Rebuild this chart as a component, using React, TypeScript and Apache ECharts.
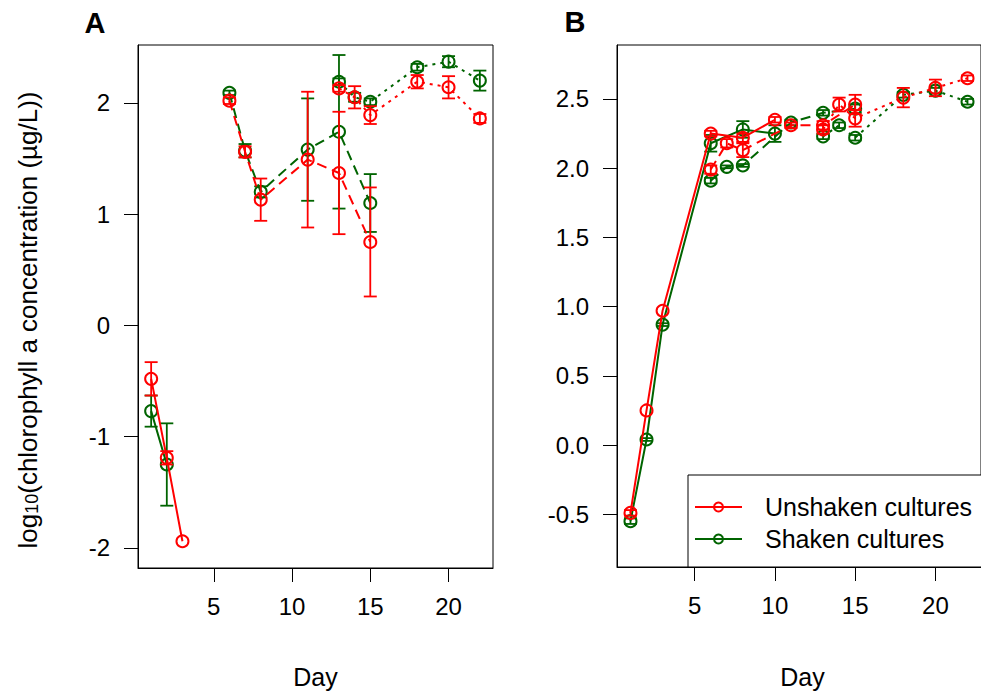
import React, { useEffect, useRef } from "react";
import * as echarts from "echarts";

// ---------- data ----------
const daysExp1A = [1, 2, 3];
const daysExp1A_green = [1, 2];
const daysExp1B = [1, 2, 3, 6, 8, 10];
const daysExp2 = [6, 7, 8, 11, 13, 15];
const daysExp3 = [13, 14, 15, 18, 20, 22];

// Panel A (chlorophyll a)
const aUnshaken1 = [-0.48, -1.19, -1.94];
const aUnshaken1Err = [0.15, 0.06, 0];
const aUnshaken2 = [2.02, 1.56, 1.13, 1.49, 1.37, 0.75];
const aUnshaken2Err = [0.03, 0.05, 0.19, 0.61, 0.55, 0.49];
const aUnshaken3 = [2.13, 2.05, 1.89, 2.19, 2.14, 1.86];
const aUnshaken3Err = [0.03, 0.1, 0.08, 0.06, 0.1, 0.04];

const aShaken1 = [-0.77, -1.25];
const aShaken1Err = [0.14, 0.37];
const aShaken2 = [2.09, 1.57, 1.2, 1.58, 1.74, 1.1];
const aShaken2Err = [0.02, 0.06, 0.05, 0.46, 0.69, 0.26];
const aShaken3 = [2.19, 2.05, 2.01, 2.32, 2.37, 2.2];
const aShaken3Err = [0.03, 0.04, 0.03, 0.03, 0.05, 0.09];

// Panel B
const bUnshaken1 = [-0.49, 0.25, 0.97, 2.25, 2.22, 2.35];
const bUnshaken1Err = [0.02, 0, 0, 0.02, 0.03, 0.02];
const bUnshaken2 = [1.99, 2.18, 2.13, 2.31, 2.31, 2.46];
const bUnshaken2Err = [0.03, 0.03, 0.05, 0.02, 0.03, 0.07];
const bUnshaken3 = [2.28, 2.46, 2.36, 2.51, 2.58, 2.65];
const bUnshaken3Err = [0.03, 0.05, 0.06, 0.07, 0.06, 0.02];

const bShaken1 = [-0.55, 0.04, 0.87, 2.18, 2.28, 2.25];
const bShaken1Err = [0.02, 0.01, 0.01, 0.06, 0.06, 0.06];
const bShaken2 = [1.91, 2.01, 2.02, 2.33, 2.4, 2.43];
const bShaken2Err = [0.02, 0.01, 0.01, 0.02, 0.02, 0.03];
const bShaken3 = [2.23, 2.31, 2.22, 2.53, 2.56, 2.48];
const bShaken3Err = [0.02, 0.02, 0.02, 0.02, 0.02, 0.02];

const xTicks = [5, 10, 15, 20];
const yTicksA = [-2, -1, 0, 1, 2];
const yTicksB = [-0.5, 0, 0.5, 1, 1.5, 2, 2.5];

const legendLabels = ["Unshaken cultures", "Shaken cultures"];
const yTitleMain = "(chlorophyll a concentration (\u00b5g/L))";

// ---------- styles ----------
const RED = "#FF0000";
const GREEN = "#006400";
const FONT = "Liberation Sans";
const SOLID = "solid";
const DASHED = [10, 6];
const DOTTED = [3, 5];

function lineSeries(days: number[], vals: number[], color: string, dash: any, panel: number, z: number) {
  return {
    type: "line",
    xAxisIndex: panel,
    yAxisIndex: panel,
    data: days.map((d, i) => [d, vals[i]]),
    symbol: "circle",
    symbolSize: 12,
    itemStyle: { color: "rgba(0,0,0,0)", borderColor: color, borderWidth: 2 },
    lineStyle: { color, width: 2, type: dash },
    emphasis: { disabled: true },
    silent: true,
    z,
  };
}

function errSeries(days: number[], vals: number[], errs: number[], color: string, panel: number, z: number) {
  const data = days
    .map((d, i) => [d, vals[i] - errs[i], vals[i] + errs[i]])
    .filter((r) => r[2] - r[1] > 0);
  return {
    type: "custom",
    xAxisIndex: panel,
    yAxisIndex: panel,
    data,
    encode: { x: 0, y: [1, 2] },
    silent: true,
    z,
    renderItem: (params: any, api: any) => {
      const x = api.value(0);
      const p1 = api.coord([x, api.value(1)]);
      const p2 = api.coord([x, api.value(2)]);
      const w = 6.5;
      const st = { stroke: color, lineWidth: 1.8 };
      return {
        type: "group",
        children: [
          { type: "line", shape: { x1: p1[0], y1: p1[1], x2: p2[0], y2: p2[1] }, style: st },
          { type: "line", shape: { x1: p1[0] - w, y1: p1[1], x2: p1[0] + w, y2: p1[1] }, style: st },
          { type: "line", shape: { x1: p2[0] - w, y1: p2[1], x2: p2[0] + w, y2: p2[1] }, style: st },
        ],
      };
    },
  };
}

function xAxisCfg(gridIndex: number) {
  return {
    type: "value",
    gridIndex,
    min: 0.16,
    max: 22.84,
    axisLine: { show: true, onZero: false, lineStyle: { color: "#000", width: 1 } },
    splitLine: { show: false },
    axisTick: { show: true, length: 14, lineStyle: { color: "#000", width: 1 }, customValues: xTicks },
    axisLabel: { customValues: xTicks, color: "#000", fontSize: 24, fontFamily: FONT, margin: 26 },
  };
}

function yAxisCfg(gridIndex: number, min: number, max: number, ticks: number[], fmt: (v: number) => string) {
  return {
    type: "value",
    gridIndex,
    min,
    max,
    axisLine: { show: true, onZero: false, lineStyle: { color: "#000", width: 1 } },
    splitLine: { show: false },
    axisTick: { show: true, length: 14, lineStyle: { color: "#000", width: 1 }, customValues: ticks },
    axisLabel: { customValues: ticks, color: "#000", fontSize: 24, fontFamily: FONT, margin: 28, formatter: fmt },
  };
}

export default function App() {
  const ref = useRef<HTMLDivElement>(null);

  useEffect(() => {
    if (!ref.current) return;
    const chart = echarts.init(ref.current, null, { renderer: "svg" });

    // measure the y title pieces
    const cv = document.createElement("canvas").getContext("2d") as CanvasRenderingContext2D;
    cv.font = `26px "${FONT}"`;
    const wLog = cv.measureText("log").width;
    const wMain = cv.measureText(yTitleMain).width;
    cv.font = `18px "${FONT}"`;
    const wSub = cv.measureText("10").width;
    const total = wLog + wSub + wMain;
    const x0 = -total / 2;

    const series: any[] = [
      // panel A
      lineSeries(daysExp1A_green, aShaken1, GREEN, SOLID, 0, 2),
      lineSeries(daysExp2, aShaken2, GREEN, DASHED, 0, 2),
      lineSeries(daysExp3, aShaken3, GREEN, DOTTED, 0, 2),
      errSeries(daysExp1A_green, aShaken1, aShaken1Err, GREEN, 0, 3),
      errSeries(daysExp2, aShaken2, aShaken2Err, GREEN, 0, 3),
      errSeries(daysExp3, aShaken3, aShaken3Err, GREEN, 0, 3),
      lineSeries(daysExp1A, aUnshaken1, RED, SOLID, 0, 4),
      lineSeries(daysExp2, aUnshaken2, RED, DASHED, 0, 4),
      lineSeries(daysExp3, aUnshaken3, RED, DOTTED, 0, 4),
      errSeries(daysExp1A, aUnshaken1, aUnshaken1Err, RED, 0, 5),
      errSeries(daysExp2, aUnshaken2, aUnshaken2Err, RED, 0, 5),
      errSeries(daysExp3, aUnshaken3, aUnshaken3Err, RED, 0, 5),
      // panel B
      lineSeries(daysExp1B, bShaken1, GREEN, SOLID, 1, 2),
      lineSeries(daysExp2, bShaken2, GREEN, DASHED, 1, 2),
      lineSeries(daysExp3, bShaken3, GREEN, DOTTED, 1, 2),
      errSeries(daysExp1B, bShaken1, bShaken1Err, GREEN, 1, 3),
      errSeries(daysExp2, bShaken2, bShaken2Err, GREEN, 1, 3),
      errSeries(daysExp3, bShaken3, bShaken3Err, GREEN, 1, 3),
      lineSeries(daysExp1B, bUnshaken1, RED, SOLID, 1, 4),
      lineSeries(daysExp2, bUnshaken2, RED, DASHED, 1, 4),
      lineSeries(daysExp3, bUnshaken3, RED, DOTTED, 1, 4),
      errSeries(daysExp1B, bUnshaken1, bUnshaken1Err, RED, 1, 5),
      errSeries(daysExp2, bUnshaken2, bUnshaken2Err, RED, 1, 5),
      errSeries(daysExp3, bUnshaken3, bUnshaken3Err, RED, 1, 5),
    ];

    const txt = (text: string, x: number, y: number, size: number, extra: any = {}) => ({
      type: "text",
      x,
      y,
      z: 50,
      silent: true,
      style: {
        text,
        fontSize: size,
        fontFamily: FONT,
        fill: "#000",
        align: "center",
        verticalAlign: "middle",
        ...extra,
      },
    });

    const legendRow = (label: string, color: string, y: number) => [
      {
        type: "line",
        z: 51,
        silent: true,
        shape: { x1: 695, y1: y, x2: 742, y2: y },
        style: { stroke: color, lineWidth: 2 },
      },
      {
        type: "circle",
        z: 52,
        silent: true,
        shape: { cx: 718.5, cy: y, r: 4.5 },
        style: { fill: "rgba(0,0,0,0)", stroke: color, lineWidth: 2 },
      },
      txt(label, 765, y, 25, { align: "left" }),
    ];

    chart.setOption({
      animation: false,
      backgroundColor: "#fff",
      textStyle: { fontFamily: FONT },
      grid: [
        { left: 138, top: 45, width: 355, height: 523, show: true, borderColor: "#000", borderWidth: 1, backgroundColor: "rgba(0,0,0,0)" },
        { left: 617, top: 45, width: 371, height: 522, show: true, borderColor: "#000", borderWidth: 1, backgroundColor: "rgba(0,0,0,0)" },
      ],
      xAxis: [xAxisCfg(0), xAxisCfg(1)],
      yAxis: [
        yAxisCfg(0, -2.18, 2.52, yTicksA, (v: number) => String(Math.round(v))),
        yAxisCfg(1, -0.881, 2.89, yTicksB, (v: number) => v.toFixed(1)),
      ],
      series,
      graphic: [
        txt("A", 95, 23, 29, { fontWeight: "bold" }),
        txt("B", 575, 22, 29, { fontWeight: "bold" }),
        txt("Day", 315.5, 677, 25),
        txt("Day", 802.5, 677, 25),
        {
          type: "group",
          x: 28,
          y: 320,
          rotation: Math.PI / 2,
          silent: true,
          children: [
            { type: "text", x: x0, y: 0, style: { text: "log", fontSize: 26, fontFamily: FONT, fill: "#000", align: "left", verticalAlign: "middle" } },
            { type: "text", x: x0 + wLog, y: 4, style: { text: "10", fontSize: 18, fontFamily: FONT, fill: "#000", align: "left", verticalAlign: "middle" } },
            { type: "text", x: x0 + wLog + wSub, y: 0, style: { text: yTitleMain, fontSize: 26, fontFamily: FONT, fill: "#000", align: "left", verticalAlign: "middle" } },
          ],
        },
        {
          type: "rect",
          z: 50,
          silent: true,
          shape: { x: 688, y: 475, width: 320, height: 92 },
          style: { fill: "#fff", stroke: "#000", lineWidth: 1 },
        },
        ...legendRow(legendLabels[0], RED, 507),
        ...legendRow(legendLabels[1], GREEN, 539),
      ],
    });

    return () => chart.dispose();
  }, []);

  return (
    <div
      ref={ref}
      style={{ position: "fixed", left: 0, top: 0, width: 981, height: 696, background: "#fff" }}
    />
  );
}
